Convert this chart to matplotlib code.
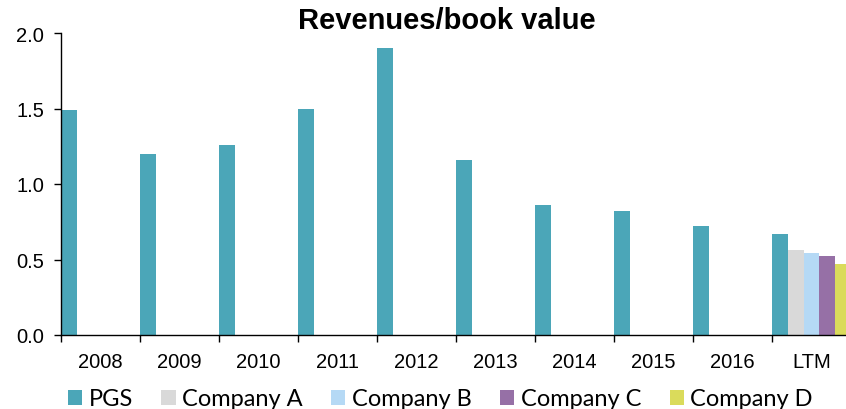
import numpy as np
import matplotlib
matplotlib.use('Agg')
import matplotlib.pyplot as plt
from matplotlib.ticker import FixedLocator, FormatStrFormatter

categories = ['2008', '2009', '2010', '2011', '2012', '2013', '2014', '2015', '2016', 'LTM']
series_names = ['PGS', 'Company A', 'Company B', 'Company C', 'Company D']
nan = np.nan
pgs = [1.49, 1.20, 1.26, 1.50, 1.90, 1.16, 0.86, 0.82, 0.72, 0.67]
company_a = [nan] * 9 + [0.56]
company_b = [nan] * 9 + [0.54]
company_c = [nan] * 9 + [0.52]
company_d = [nan] * 9 + [0.47]
colors = ['#4ba6b8', '#d9d9d9', '#b5d9f5', '#9670a6', '#dadb5b']

values = [pgs, company_a, company_b, company_c, company_d]

plt.rcParams['font.family'] = ['Liberation Sans', 'DejaVu Sans']

fig = plt.figure(figsize=(8.46, 4.10), dpi=100)
W, H = 846, 410
# axes runs a bit past the right edge, like the original (last bar clipped)
ax = fig.add_axes([61 / W, (H - 336) / H, 790 / W, 302 / H])

x = np.arange(len(categories))
n = len(series_names)
bw = 1.0 / n
for j, (name, vals, col) in enumerate(zip(series_names, values, colors)):
    ax.bar(x - 0.5 + bw / 2 + j * bw, vals, width=bw, color=col, label=name,
           edgecolor='none')

ax.set_xlim(-0.5, len(categories) - 0.5)
ax.set_ylim(0, 2.0)
ax.set_yticks([0, 0.5, 1.0, 1.5, 2.0])
ax.yaxis.set_major_formatter(FormatStrFormatter('%.1f'))

ax.set_xticks(x)
ax.set_xticklabels(categories)
ax.xaxis.set_minor_locator(FixedLocator(np.arange(-0.5, len(categories), 1.0)))
ax.tick_params(axis='x', which='major', length=0, pad=12, labelsize=14.5)
ax.tick_params(axis='x', which='minor', length=5, width=1, direction='out')
ax.tick_params(axis='y', length=5, width=1, direction='out', pad=7, labelsize=14.5)

for s in ['top', 'right']:
    ax.spines[s].set_visible(False)
for s in ['left', 'bottom']:
    ax.spines[s].set_color('black')
    ax.spines[s].set_linewidth(1)

fig.text(447 / W, 1 - 21 / H, 'Revenues/book value', ha='center', va='center',
         fontsize=21, fontweight='bold')

handles, labels = ax.get_legend_handles_labels()
fig.legend(handles, labels, loc='center left', bbox_to_anchor=(68 / W, 10 / H),
           ncol=5, frameon=False, borderpad=0, borderaxespad=0,
           handlelength=0.6, handleheight=0.6,
           handletextpad=0.28, columnspacing=1.2,
           prop={'family': ['Lato', 'DejaVu Sans'], 'size': 17})

fig.savefig('out.png', dpi=100)
